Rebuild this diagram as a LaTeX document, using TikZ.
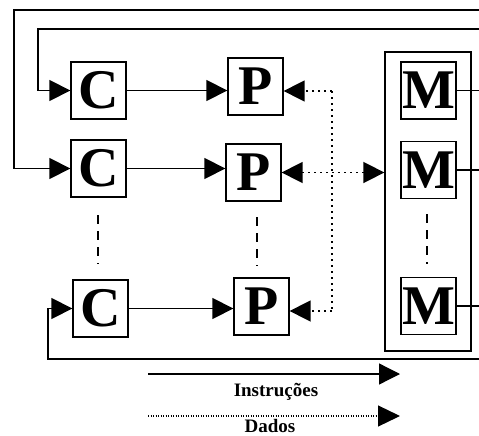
\documentclass[tikz,border=0pt]{standalone}
\usepackage{fontspec}
\setmainfont{Liberation Serif}
\usetikzlibrary{arrows.meta,positioning}

\begin{document}
\begin{tikzpicture}[
  x=1pt, y=-1pt,
  unit/.style={draw, line width=1.3pt, inner sep=0pt, minimum width=55pt, minimum height=57pt, font=\fontsize{56}{56}\selectfont\bfseries},
  instr/.style={line width=1.3pt, -{Triangle[length=21pt,width=21pt]}},
  dado/.style={line width=1.6pt, dash pattern=on 1.6pt off 4.4pt, -{Triangle[length=21pt,width=21pt]}},
  vdash/.style={line width=1.3pt, dash pattern=on 9pt off 7pt},
  legend/.style={inner sep=1pt, font=\fontsize{19}{19}\selectfont\bfseries},
]
\useasboundingbox (0,0) rectangle (479,436);

% control units, processors, memories
\node[unit] (C1) at (98.5,90.5) {C};
\node[unit] (P1) at (255.5,86.5) {P};
\node[unit] (C2) at (98.5,168.5) {C};
\node[unit] (P2) at (253.5,172.5) {P};
\node[unit] (C3) at (100.5,308.5) {C};
\node[unit] (P3) at (261.5,306.5) {P};
\node[draw, line width=1.3pt, minimum width=86pt, minimum height=299pt] (mem) at (428,201.5) {};
\node[unit] (M1) at (428.5,90.5) {M};
\node[unit] (M2) at (428.5,170) {M};
\node[unit] (M3) at (428.5,306) {M};

% free ends at the right edge
\coordinate (top1) at (479,10);
\coordinate (top2) at (479,29);
\coordinate (bot) at (479,359);
\coordinate (d1) at (332,91);
\coordinate (d3) at (332,311);

% instructions
\draw[instr] (C1.east) -- (C1.east -| P1.west);
\draw[instr] (C2.east) -- (C2.east -| P2.west);
\draw[instr] (C3.east) -- (C3.east -| P3.west);
\draw[instr] (top1) -| (14,168.5) -- (C2.west);
\draw[instr] (top2) -| (38,90.5) -- (C1.west);
\draw[instr] (bot) -| (48,308.5) -- (C3.west);
\draw[line width=1.3pt] (M1.east) -- (M1.east -| top1);
\draw[line width=1.3pt] (M2.east) -- (M2.east -| top1);
\draw[line width=1.3pt] (M3.east) -- (M3.east -| top1);

% data
\draw[dado] (d1) -- (d1 -| P1.east);
\draw[dado, {Triangle[length=21pt,width=21pt]}-{Triangle[length=21pt,width=21pt]}] (P2.east) -- (P2.east -| mem.west);
\draw[line width=1.6pt, dash pattern=on 1.6pt off 4.4pt] (d1) -- (d3);
\draw[dado] (d3) -- (d3 -| P3.east);

% ellipsis
\draw[vdash] (98,215) -- (98,264);
\draw[vdash] (257,217) -- (257,266);
\draw[vdash] (427,214) -- (427,264);

% legend
\coordinate (li) at (148,374);
\coordinate (ld) at (148,416);
\draw[instr] (li) -- ++(252,0);
\node[legend] (instxt) at (276,392) {Instruções};
\draw[line width=1.2pt, dash pattern=on 1pt off 1.5pt, -{Triangle[length=22pt,width=21pt]}] (ld) -- ++(252,0);
\node[legend] (dadtxt) at (270,426) {Dados};
\end{tikzpicture}
\end{document}
